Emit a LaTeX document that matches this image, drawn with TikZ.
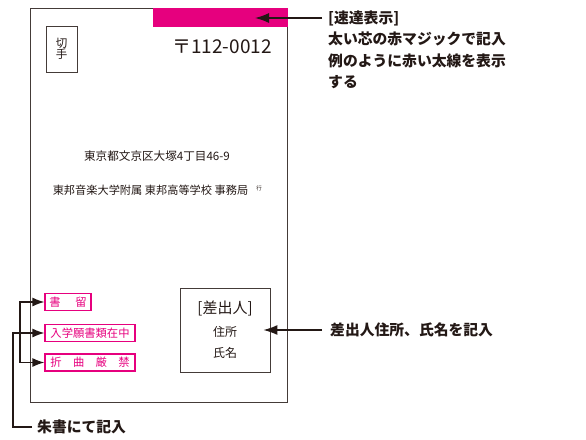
\documentclass[tikz,border=0pt]{standalone}
\usepackage{fontspec}
\setmainfont{Noto Sans CJK JP}
\usetikzlibrary{arrows.meta}

\definecolor{sokutatsu}{RGB}{230,0,126}
\definecolor{sumi}{RGB}{35,24,21}

\tikzset{
  arr/.style={line width=1.3pt,sumi,-{Latex[length=14pt,width=10pt]}},
  shortarr/.style={arr,-{Latex[length=12pt,width=9pt]}},
  shubox/.style={draw=sokutatsu,line width=1.2pt,text=sokutatsu,inner sep=2pt,
    minimum height=17pt,font=\fontsize{11.3}{11}\selectfont},
  note/.style={anchor=west,text=sumi,inner sep=0pt,font=\bfseries\fontsize{14.8}{21.5}\selectfont}
}

\begin{document}
\begin{tikzpicture}[x=1pt,y=-1pt]
  \useasboundingbox (0,0) rectangle (586,439);

  % Envelope
  \draw[line width=1pt,sumi!85] (30,8) rectangle (287,402);
  \fill[sokutatsu] (153,8) rectangle (288,27);
  \coordinate (bartip) at (255,18);

  % Stamp and postal code
  \node[draw,sumi!85,line width=0.8pt,minimum width=31pt,minimum height=46pt,
    align=center,text=sumi,font=\fontsize{11.5}{11.5}\selectfont] (kitte) at (61.5,49) {切\\手};
  \node[text=sumi,font=\fontsize{19}{19}\selectfont] (yubin) at (222,47) {〒112-0012};

  % Address
  \node[text=sumi,font=\fontsize{11.6}{12}\selectfont] (addr) at (157,156) {東京都文京区大塚4丁目46-9};
  \node[text=sumi,font=\fontsize{11.2}{12}\selectfont] (atena) at (150.5,190) {東邦音楽大学附属 東邦高等学校 事務局};
  \node[text=sumi,font=\fontsize{5.5}{6}\selectfont] (yuki) at (259,188) {行};

  % Red marks
  \node[shubox,minimum width=46pt] (shoryu) at (68,302) {書\hspace{1.3em}留};
  \node[shubox,minimum width=90pt] (nyugaku) at (90,333) {入学願書類在中};
  \node[shubox,minimum width=90pt] (oriwa) at (90,362.5) {折\hspace{1em}曲\hspace{1em}厳\hspace{1em}禁};

  % Sender
  \node[draw,sumi!85,line width=0.8pt,minimum width=90pt,minimum height=84pt] (sender) at (225,330) {};
  \node[text=sumi,font=\fontsize{15}{15}\selectfont] (sashi) at (225,308) {[差出人]};
  \node[text=sumi,font=\fontsize{12}{12}\selectfont] (jusho) at (225,332) {住所};
  \node[text=sumi,font=\fontsize{12}{12}\selectfont] (shimei) at (225,353) {氏名};

  % Labels
  \node[note] (sokulbl) at (328,18) {[速達表示]};
  \node[note,anchor=north west,align=left] (sokunote) at (328,32)
    {太い芯の赤マジックで記入\\例のように赤い太線を表示\\する};
  \node[note] (sashilbl) at (330,330) {差出人住所、氏名を記入};
  \node[note] (shulbl) at (37,427) {朱書にて記入};

  % Arrows
  \draw[arr] ([xshift=-6pt]sokulbl.west) -- (bartip);
  \draw[arr] ([xshift=-8pt]sashilbl.west) -- ([xshift=-7pt]sender.east);
  \coordinate (brx) at (20,0);
  \coordinate (midx) at (13,0);
  \draw[shortarr] (brx |- oriwa.west) -- (brx |- shoryu.west) -- (shoryu.west);
  \draw[shortarr] (brx |- oriwa.west) -- (oriwa.west);
  \draw[shortarr] ([xshift=-5pt]shulbl.west) -| (midx |- nyugaku.west) -- (nyugaku.west);
\end{tikzpicture}
\end{document}
